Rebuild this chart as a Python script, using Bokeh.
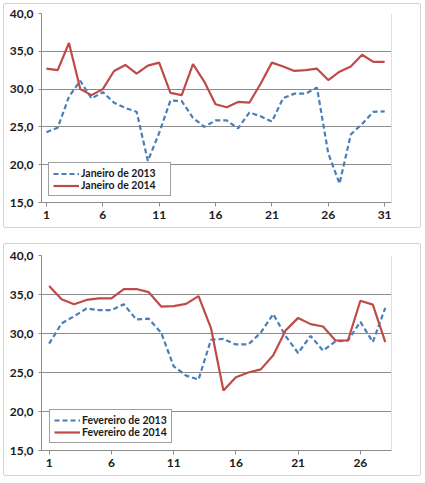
from bokeh.plotting import figure
from bokeh.layouts import column
from bokeh.models import FixedTicker, Legend, LegendItem, Span, Range1d
from bokeh.embed import file_html
from bokeh.resources import INLINE

days_jan = list(range(1, 32))
jan_2013 = [24.3, 24.9, 29.0, 31.1, 28.75, 29.6, 28.2, 27.5, 27.0, 20.5,
            24.2, 28.5, 28.4, 26.2, 25.0, 25.85, 25.85, 24.8, 26.9, 26.4,
            25.7, 28.8, 29.4, 29.4, 30.2, 21.5, 17.5, 24.0, 25.4, 27.0, 27.05]
jan_2014 = [32.7, 32.5, 36.1, 30.0, 29.2, 30.0, 32.4, 33.2, 32.05, 33.1,
            33.5, 29.5, 29.2, 33.3, 31.0, 28.0, 27.6, 28.3, 28.2, 30.7,
            33.5, 33.0, 32.4, 32.5, 32.7, 31.2, 32.3, 33.0, 34.55, 33.6, 33.6]

days_feb = list(range(1, 29))
feb_2013 = [28.7, 31.3, 32.2, 33.2, 33.0, 33.0, 33.75, 31.8, 31.9, 30.1,
            25.8, 24.6, 24.1, 29.2, 29.3, 28.6, 28.6, 30.1, 32.5, 29.65,
            27.5, 29.7, 27.8, 29.0, 29.1, 31.5, 28.9, 33.3]
feb_2014 = [36.1, 34.4, 33.75, 34.3, 34.5, 34.5, 35.7, 35.7, 35.3, 33.45,
            33.5, 33.8, 34.8, 30.7, 22.7, 24.4, 25.0, 25.4, 27.2, 30.4,
            32.0, 31.2, 30.9, 29.1, 29.1, 34.2, 33.7, 28.9]

labels_jan = ["Janeiro de 2013", "Janeiro de 2014"]
labels_feb = ["Fevereiro de 2013", "Fevereiro de 2014"]

y_ticks = [15, 20, 25, 30, 35, 40]
y_tick_labels = ["15,0", "20,0", "25,0", "30,0", "35,0", "40,0"]
x_ticks_jan = [1, 6, 11, 16, 21, 26, 31]
x_ticks_feb = [1, 6, 11, 16, 21, 26]

BLUE = "#4A7EBB"
RED = "#BE4B48"
GRID = "#8C8C8C"
FONT = "Lato"


def make_chart(days, s13, s14, labels, xticks, width, height, xr, borders,
               legend_loc, legend_w, legend_row_h):
    p = figure(width=width, height=height, output_backend="svg",
               toolbar_location=None,
               x_range=Range1d(*xr), y_range=Range1d(15, 40),
               min_border_left=borders[0], min_border_right=borders[1],
               min_border_top=borders[2], min_border_bottom=borders[3],
               styles={"border": "1px solid #D4D4D4", "border-radius": "2px"})
    p.outline_line_color = None
    p.background_fill_color = "white"
    p.xgrid.visible = False
    p.ygrid.ticker = FixedTicker(ticks=y_ticks)
    p.ygrid.grid_line_color = GRID
    p.ygrid.grid_line_width = 1

    p.yaxis.ticker = FixedTicker(ticks=y_ticks)
    p.yaxis.major_label_overrides = dict(zip(y_ticks, y_tick_labels))
    p.yaxis.minor_tick_line_color = None
    p.yaxis.major_tick_in = 0
    p.yaxis.major_tick_out = 3
    p.yaxis.major_label_standoff = 5

    p.xaxis.ticker = FixedTicker(ticks=xticks, minor_ticks=days)
    p.xaxis.major_tick_in = 0
    p.xaxis.major_tick_out = 4
    p.xaxis.minor_tick_in = 0
    p.xaxis.minor_tick_out = 4
    p.xaxis.major_label_standoff = 4

    for ax in (p.xaxis, p.yaxis):
        ax.axis_line_color = GRID
        ax.major_tick_line_color = GRID
        ax.minor_tick_line_color = GRID if ax is p.xaxis else None
        ax.major_label_text_font = FONT
        ax.major_label_text_font_style = "bold"
        ax.major_label_text_font_size = "12px"
        ax.major_label_text_color = "#1a1a1a"

    p.add_layout(Span(location=xr[1], dimension="height",
                      line_color="#BFBFBF", line_width=1))

    r1 = p.line(days, s13, line_color=BLUE, line_width=2.2, line_dash="5 3")
    r2 = p.line(days, s14, line_color=RED, line_width=2.2)

    legend = Legend(items=[LegendItem(label=labels[0], renderers=[r1]),
                           LegendItem(label=labels[1], renderers=[r2])],
                    location=legend_loc, margin=0, padding=4, spacing=0,
                    glyph_width=26, glyph_height=legend_row_h,
                    label_height=legend_row_h, label_standoff=2,
                    label_width=legend_w - 4 - 26 - 2 - 4,
                    label_text_font=FONT, label_text_font_style="bold",
                    label_text_font_size="10.5px", label_text_color="#1a1a1a",
                    border_line_color="#404040", border_line_width=1,
                    background_fill_color="white", background_fill_alpha=1)
    p.add_layout(legend)
    return p


p1 = make_chart(days_jan, jan_2013, jan_2014, labels_jan, x_ticks_jan,
                418, 225, (0.563, 31.61), (35, 26, 9, 27), (7, 6), 121, 11)
p2 = make_chart(days_feb, feb_2013, feb_2014, labels_feb, x_ticks_feb,
                418, 233, (0.386, 28.5), (37, 31, 11, 27), (8, 7), 118, 10)

layout = column(p1, p2, spacing=15,
                styles={"margin-left": "3px", "margin-top": "3px"})

with open("out.html", "w") as f:
    f.write(file_html(layout, INLINE))
